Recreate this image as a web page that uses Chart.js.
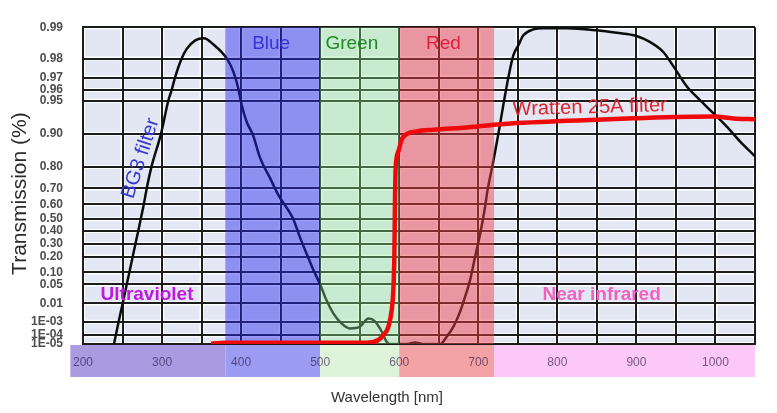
<!DOCTYPE html>
<html lang="en">
<head>
<meta charset="UTF-8" />
<title>BG3 / Wratten 25A transmission</title>
<script src="https://cdn.jsdelivr.net/npm/chart.js@4.4.1/dist/chart.umd.min.js"></script>
<style>
  html, body { margin: 0; padding: 0; background: #fff; }
  #wrap { width: 777px; height: 413px; }
</style>
</head>
<body>
<div id="wrap"><canvas id="specChart"></canvas></div>

<script>
  // y axis is a probability-paper scale: each label sits at its own place on a 0..100 axis
  const yTickValues = [1e-5, 1e-4, 1e-3, 0.01, 0.05, 0.10, 0.20, 0.30, 0.40, 0.50, 0.60, 0.70, 0.80, 0.90, 0.95, 0.96, 0.97, 0.98, 0.99];
  const yTickLabels = ["1E-05", "1E-04", "1E-03", "0.01", "0.05", "0.10", "0.20", "0.30", "0.40", "0.50", "0.60", "0.70", "0.80", "0.90", "0.95", "0.96", "0.97", "0.98", "0.99"];
  const yTickPos = [0, 2.8, 7.0, 12.8, 18.8, 22.6, 27.6, 31.6, 35.7, 39.4, 44.1, 49.1, 55.9, 66.4, 76.8, 80.2, 84.1, 90.1, 100];

  // BG3 filter (black curve), wavelength nm / transmission
  const bg3Nm = [239.2, 241.5, 245.1, 250.1, 255.3, 258.6, 262.9, 266.3, 269.9, 273, 276.9, 280.6, 286.6, 298.7, 307.9, 312.2, 316.4, 324.8, 331, 342, 353, 365, 382, 390, 396.5, 400.7, 407, 415, 424, 436.5, 447, 466, 474.5, 483, 491, 500, 508, 516.6, 527, 537.7, 550, 561, 569, 578, 584, 588, 610, 620, 630, 652, 660, 668.4, 676.9, 683.2, 689.5, 695.8, 702.2, 708.5, 711.4, 719, 725.3, 731.6, 738, 744.3, 750.6, 757, 769.6, 782, 812, 850, 875, 900, 917, 934, 946.7, 963.6, 980.4, 997.3, 1014, 1031, 1050];
  const bg3T = [1e-5, 1e-4, 1e-3, 0.01, 0.05, 0.10, 0.20, 0.30, 0.40, 0.50, 0.60, 0.70, 0.80, 0.90, 0.95, 0.96, 0.97, 0.98, 0.983, 0.9858, 0.9865, 0.9845, 0.980, 0.9733, 0.961, 0.9435, 0.918, 0.896, 0.827, 0.749, 0.66, 0.50, 0.35, 0.22, 0.12, 0.05, 0.013, 0.0029, 7.6e-4, 3.2e-4, 4.2e-4, 1.5e-3, 1.1e-3, 1.8e-4, 1.8e-5, 1e-5, 1e-5, 1.5e-5, 1e-5, 1e-5, 6.5e-5, 4.2e-4, 3.5e-3, 0.0173, 0.067, 0.195, 0.373, 0.58, 0.68, 0.817, 0.898, 0.943, 0.970, 0.981, 0.9842, 0.9874, 0.9893, 0.9897, 0.9897, 0.989, 0.9882, 0.9872, 0.9853, 0.9821, 0.976, 0.963, 0.9506, 0.931, 0.911, 0.877, 0.832];

  // Wratten 25A filter (red curve)
  const wrattenNm = [362, 380, 560, 573.6, 579.9, 586.2, 590.5, 592.5, 593.8, 594.7, 595.5, 599, 603, 609.4, 622, 643, 685, 748, 812, 896, 997, 1022.6, 1050];
  const wrattenT = [1.1e-5, 1.4e-5, 1.4e-5, 2.8e-5, 1e-4, 4.2e-4, 4.4e-3, 0.030, 0.196, 0.65, 0.797, 0.847, 0.882, 0.8985, 0.9035, 0.906, 0.9095, 0.916, 0.9194, 0.9233, 0.926, 0.923, 0.922];

  // colour bands over the plot
  const bandNames = ["Blue", "Green", "Red"];
  const bandFrom = [380, 500, 600];
  const bandTo = [500, 600, 720];
  const bandLabelNm = [438, 540, 656];

  // regions of the strip under the plot
  const regionNames = ["Ultraviolet", "Blue", "Green", "Red", "Near infrared"];
  const regionFrom = [184, 380, 500, 600, 720];
  const regionTo = [380, 500, 600, 720, 1050];

  const FONT = '"Liberation Sans", Arial, sans-serif';
  const bandFill = ["rgba(40,40,240,0.46)", "rgba(150,240,150,0.36)", "rgba(240,60,70,0.47)"];
  const bandText = ["#3434d6", "#1f8a1f", "#e0203a"];
  const regionFill = ["#a99be2", "#9c9cf3", "#dff3da", "#f3a3a6", "#fcc8f8"];

  function toPos(t) {
    const v = yTickValues, p = yTickPos;
    if (t <= v[0]) return p[0];
    let i = 0;
    while (i < v.length - 2 && t > v[i + 1]) i++;
    let f;
    if (v[i + 1] <= 0.05) {
      f = (Math.log10(t) - Math.log10(v[i])) / (Math.log10(v[i + 1]) - Math.log10(v[i]));
    } else {
      f = (t - v[i]) / (v[i + 1] - v[i]);
    }
    return p[i] + f * (p[i + 1] - p[i]);
  }

  function text(ctx, str, x, y, font, color, angle) {
    ctx.save();
    ctx.translate(x, y);
    if (angle) ctx.rotate(angle * Math.PI / 180);
    ctx.font = font;
    ctx.fillStyle = color;
    ctx.textAlign = "center";
    ctx.textBaseline = "middle";
    ctx.fillText(str, 0, 0);
    ctx.restore();
  }

  const backdrop = {
    id: "backdrop",
    beforeDraw(chart) {
      const { ctx, chartArea: a, scales: { x, y } } = chart;
      ctx.save();
      ctx.fillStyle = "#e3e7f3";
      ctx.fillRect(a.left, a.top, a.right - a.left, a.bottom - a.top);
      // white edges along the grid lines
      ctx.strokeStyle = "#ffffff";
      ctx.lineWidth = 4;
      x.ticks.forEach((t, i) => {
        const px = x.getPixelForTick(i);
        ctx.beginPath(); ctx.moveTo(px, a.top); ctx.lineTo(px, a.bottom); ctx.stroke();
      });
      y.ticks.forEach((t, i) => {
        const py = y.getPixelForTick(i);
        ctx.beginPath(); ctx.moveTo(a.left, py); ctx.lineTo(a.right, py); ctx.stroke();
      });
      // strip under the plot
      regionFrom.forEach((from, i) => {
        const x0 = x.getPixelForValue(from), x1 = x.getPixelForValue(regionTo[i]);
        ctx.fillStyle = regionFill[i];
        ctx.fillRect(x0, a.bottom + 1, x1 - x0, 32);
      });
      ctx.restore();
    },
    afterDatasetDraw(chart, args) {
      if (args.index !== 0) return;
      const { ctx, chartArea: a, scales: { x } } = chart;
      ctx.save();
      ctx.beginPath();
      ctx.rect(a.left, a.top, a.right - a.left, a.bottom - a.top);
      ctx.clip();
      bandFrom.forEach((from, i) => {
        const x0 = x.getPixelForValue(from), x1 = x.getPixelForValue(bandTo[i]);
        ctx.fillStyle = bandFill[i];
        ctx.fillRect(x0, a.top, x1 - x0, a.bottom - a.top);
      });
      ctx.restore();
    },
    afterDraw(chart) {
      const { ctx, chartArea: a, scales: { x, y } } = chart;
      bandNames.forEach((name, i) => {
        text(ctx, name, x.getPixelForValue(bandLabelNm[i]), a.top + 17, "19px " + FONT, bandText[i]);
      });
      text(ctx, regionNames[0], x.getPixelForValue(281), y.getPixelForValue(toPos(0.02)), "bold 19px " + FONT, "#c018e0");
      text(ctx, regionNames[4], x.getPixelForValue(856), y.getPixelForValue(toPos(0.02)), "bold 19px " + FONT, "#f062c0");
      text(ctx, "BG3 filter", x.getPixelForValue(273), y.getPixelForValue(toPos(0.826)), "20px " + FONT, "#3838d4", -72);
      text(ctx, "Wratten 25A filter", x.getPixelForValue(841), y.getPixelForValue(toPos(0.9395)), "20px " + FONT, "#da2430", -1.5);
      // axis titles
      text(ctx, "Wavelength [nm]", (a.left + a.right) / 2 - 32, a.bottom + 54, "15px " + FONT, "#333");
      text(ctx, "Transmission (%)", 20, (a.top + a.bottom) / 2 + 8, "21px " + FONT, "#2a2a2a", -90);
    }
  };

  const gridLine = { color: "#1c1c1c", lineWidth: 2, drawTicks: false };
  const border = { color: "#1c1c1c", width: 2 };

  const specChart = new Chart(document.getElementById("specChart"), {
    type: "line",
    data: {
      datasets: [
        {
          label: "BG3 filter",
          data: bg3Nm.map((nm, i) => ({ x: nm, y: toPos(bg3T[i]) })),
          borderColor: "#0c0c0c",
          borderWidth: 2.5,
          pointRadius: 0,
          cubicInterpolationMode: "monotone",
          order: 2,
        },
        {
          label: "Wratten 25A filter",
          data: wrattenNm.map((nm, i) => ({ x: nm, y: toPos(wrattenT[i]) })),
          borderColor: "#ee0a0a",
          borderWidth: 4.5,
          pointRadius: 0,
          cubicInterpolationMode: "monotone",
          order: 1,
        },
      ],
    },
    options: {
      responsive: true,
      maintainAspectRatio: false,
      animation: false,
      layout: { padding: { top: 25, right: 22, left: 0, bottom: 0 } },
      plugins: { legend: { display: false }, tooltip: { enabled: false } },
      scales: {
        x: {
          type: "linear",
          min: 200,
          max: 1050,
          afterFit: (s) => { s.height = 69; },
          ticks: {
            stepSize: 50,
            padding: 11,
            autoSkip: false,
            maxRotation: 0,
            color: "rgba(40,20,70,0.65)",
            font: { size: 12, family: FONT },
            callback: (v) => (v % 100 === 0 && v <= 1000 ? String(v) : ""),
          },
          grid: gridLine,
          border: border,
        },
        y: {
          type: "linear",
          min: 0,
          max: 100,
          afterFit: (s) => { s.width = 83; },
          afterBuildTicks: (s) => { s.ticks = yTickPos.map((v) => ({ value: v })); },
          ticks: {
            autoSkip: false,
            padding: 20,
            color: "#4d4d4d",
            font: { size: 12, weight: "bold", family: FONT },
            callback: (v, i) => yTickLabels[i],
          },
          grid: gridLine,
          border: border,
        },
      },
    },
    plugins: [backdrop],
  });
</script>
</body>
</html>
